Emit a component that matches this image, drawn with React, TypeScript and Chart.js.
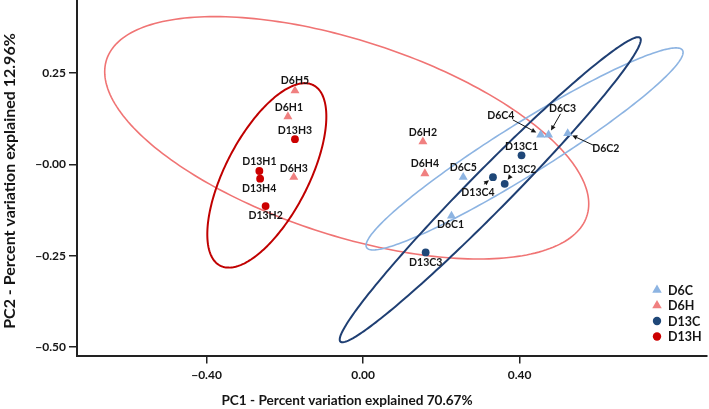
import { useEffect, useRef } from "react";
import { Chart, registerables } from "chart.js";

Chart.register(...registerables);

// ---------- data ----------
const groupLabels = ["D6C", "D6H", "D13C", "D13H"];
const groupColors = ["#8DB4E2", "#F08080", "#1F4778", "#CC0000"];
const groupStyles = ["triangle", "triangle", "circle", "circle"];

const d6cNames = ["D6C1", "D6C2", "D6C3", "D6C4", "D6C5"];
const d6cX = [0.226, 0.523, 0.474, 0.454, 0.256];
const d6cY = [-0.141, 0.085, 0.081, 0.081, -0.035];

const d6hNames = ["D6H1", "D6H2", "D6H3", "D6H4", "D6H5"];
const d6hX = [-0.192, 0.153, -0.177, 0.158, -0.174];
const d6hY = [0.131, 0.062, -0.035, -0.025, 0.202];

const d13cNames = ["D13C1", "D13C2", "D13C3", "D13C4"];
const d13cX = [0.405, 0.362, 0.16, 0.332];
const d13cY = [0.025, -0.053, -0.241, -0.035];

const d13hNames = ["D13H1", "D13H2", "D13H3", "D13H4"];
const d13hX = [-0.265, -0.249, -0.174, -0.263];
const d13hY = [-0.018, -0.114, 0.069, -0.039];

// confidence ellipses (order: D6H, D13H, D6C, D13C)
const ellipseGroups = ["D6H", "D13H", "D6C", "D13C"];
const ellipseCenterX = [-0.0417, -0.2459, 0.4128, 0.3251];
const ellipseCenterY = [0.0728, -0.0301, 0.0424, -0.0693];
const ellipseRadiusX = [0.6185, 0.1521, 0.4051, 0.3847];
const ellipseRadiusY = [0.3318, 0.2524, 0.2765, 0.4175];
const ellipseCorr = [-0.545, 0.638, 0.955, 0.982];

const xTicks = [-0.4, 0, 0.4];
const xTickLabels = ["\u22120.40", "0.00", "0.40"];
const yTicks = [0.25, 0, -0.25, -0.5];
const yTickLabels = ["0.25", "\u22120.00", "\u22120.25", "\u22120.50"];

const xTitle = "PC1 - Percent variation explained 70.67%";
const yTitle = "PC2 - Percent variation explained 12.96%";

// ---------- styling / placement ----------
const FONT = "Lato, 'Open Sans', sans-serif";
const ellipseColors: Record<string, string> = {
  D6H: "#F07474",
  D13H: "#C00000",
  D6C: "#8DB4E2",
  D13C: "#1F3F73",
};
const ellipseWidths: Record<string, number> = { D6H: 1.6, D13H: 2, D6C: 1.6, D13C: 2 };

// label centre offsets (px) relative to the point
const labelOffsets: Record<string, [number, number]> = {
  D6H5: [0, -10],
  D6H1: [1, -9],
  D13H3: [0, -9],
  D13H1: [0, -9],
  D6H3: [0, -9],
  D13H4: [-1, 9.5],
  D13H2: [0, 10],
  D6H2: [0, -9.5],
  D6H4: [0, -9.5],
  D6C5: [0, -9.5],
  D6C1: [-1, 9],
  D13C3: [0, 10],
  D13C1: [0, -9],
  D13C4: [-15, 15],
  D13C2: [15, -14],
  D6C4: [-40, -19],
  D6C3: [14, -26],
  D6C2: [38, 15],
};
// arrow start offsets (px) relative to the label centre
const arrowStarts: Record<string, [number, number]> = {
  D6C4: [12, 4],
  D6C3: [-2, 5],
  D6C2: [-12, -3],
  D13C4: [6, -8],
  D13C2: [-9, 6],
};

const allNames = [d6cNames, d6hNames, d13cNames, d13hNames];

function toPoints(xs: number[], ys: number[]) {
  return xs.map((x, i) => ({ x, y: ys[i] }));
}

const ellipsePlugin = {
  id: "ellipses",
  beforeDatasetsDraw(chart: any) {
    const { ctx, chartArea, scales } = chart;
    const xs = scales.x;
    const ys = scales.y;
    ctx.save();
    ctx.beginPath();
    ctx.rect(chartArea.left, chartArea.top, chartArea.right - chartArea.left, chartArea.bottom - chartArea.top);
    ctx.clip();
    ellipseGroups.forEach((g, k) => {
      const cx = ellipseCenterX[k];
      const cy = ellipseCenterY[k];
      const rx = ellipseRadiusX[k];
      const ry = ellipseRadiusY[k];
      const r = ellipseCorr[k];
      const s = Math.sqrt(1 - r * r);
      ctx.beginPath();
      const n = 240;
      for (let i = 0; i <= n; i++) {
        const t = (i / n) * Math.PI * 2;
        const dx = cx + rx * Math.cos(t);
        const dy = cy + ry * (r * Math.cos(t) + s * Math.sin(t));
        const px = xs.getPixelForValue(dx);
        const py = ys.getPixelForValue(dy);
        if (i === 0) ctx.moveTo(px, py);
        else ctx.lineTo(px, py);
      }
      ctx.closePath();
      ctx.strokeStyle = ellipseColors[g];
      ctx.lineWidth = ellipseWidths[g];
      ctx.stroke();
    });
    ctx.restore();
  },
};

function drawArrow(ctx: CanvasRenderingContext2D, x1: number, y1: number, x2: number, y2: number) {
  const ang = Math.atan2(y2 - y1, x2 - x1);
  const c = Math.cos(ang);
  const s = Math.sin(ang);
  const headLen = 5;
  const headW = 2.4;
  ctx.beginPath();
  ctx.moveTo(x1, y1);
  ctx.lineTo(x2 - c * headLen, y2 - s * headLen);
  ctx.stroke();
  ctx.beginPath();
  ctx.moveTo(x2, y2);
  ctx.lineTo(x2 - c * headLen - s * headW, y2 - s * headLen + c * headW);
  ctx.lineTo(x2 - c * headLen + s * headW, y2 - s * headLen - c * headW);
  ctx.closePath();
  ctx.fill();
}

const labelPlugin = {
  id: "pointLabels",
  afterDatasetsDraw(chart: any) {
    const { ctx } = chart;
    ctx.save();
    ctx.font = `bold 10.5px ${FONT}`;
    ctx.textAlign = "center";
    ctx.textBaseline = "middle";
    ctx.fillStyle = "#151515";
    ctx.strokeStyle = "#151515";
    ctx.lineWidth = 1;
    chart.data.datasets.forEach((ds: any, di: number) => {
      const meta = chart.getDatasetMeta(di);
      const names = allNames[di];
      meta.data.forEach((el: any, i: number) => {
        const name = names[i];
        const off = labelOffsets[name] || [0, -9];
        const lx = el.x + off[0];
        const ly = el.y + off[1];
        ctx.fillText(name, lx, ly);
        const a = arrowStarts[name];
        if (a) {
          const sx = lx + a[0];
          const sy = ly + a[1];
          const ang = Math.atan2(el.y - sy, el.x - sx);
          const gap = 5;
          drawArrow(ctx, sx, sy, el.x - Math.cos(ang) * gap, el.y - Math.sin(ang) * gap);
        }
      });
    });
    ctx.restore();
  },
};

const decorPlugin = {
  id: "decor",
  afterDraw(chart: any) {
    const { ctx, chartArea } = chart;
    ctx.save();
    // legend
    const mx = chartArea.right - 50;
    const y0 = chartArea.bottom - 65.5;
    const step = 15.5;
    ctx.font = `bold 12.5px ${FONT}`;
    ctx.textAlign = "left";
    ctx.textBaseline = "middle";
    groupLabels.forEach((lab, i) => {
      const y = y0 + i * step;
      ctx.fillStyle = groupColors[i];
      if (groupStyles[i] === "triangle") {
        const r = 5.5;
        ctx.beginPath();
        ctx.moveTo(mx, y - r);
        ctx.lineTo(mx + r * 0.866, y + r / 2);
        ctx.lineTo(mx - r * 0.866, y + r / 2);
        ctx.closePath();
        ctx.fill();
      } else {
        ctx.beginPath();
        ctx.arc(mx, y, 4.2, 0, Math.PI * 2);
        ctx.fill();
      }
      ctx.fillStyle = "#151515";
      ctx.fillText(lab, mx + 11, y + 0.5);
    });
    // axis titles
    ctx.fillStyle = "#151515";
    ctx.textAlign = "center";
    ctx.textBaseline = "middle";
    ctx.font = `bold 13.6px ${FONT}`;
    ctx.fillText(xTitle, 347, 401);
    ctx.translate(10, 181);
    ctx.rotate(-Math.PI / 2);
    ctx.font = `bold 16px ${FONT}`;
    ctx.fillText(yTitle, 0, 0);
    ctx.restore();
  },
};

export default function App() {
  const ref = useRef<HTMLCanvasElement | null>(null);
  useEffect(() => {
    if (!ref.current) return;
    const datasets = [
      { xs: d6cX, ys: d6cY },
      { xs: d6hX, ys: d6hY },
      { xs: d13cX, ys: d13cY },
      { xs: d13hX, ys: d13hY },
    ].map((d, i) => ({
      label: groupLabels[i],
      data: toPoints(d.xs, d.ys),
      pointStyle: groupStyles[i] as any,
      pointRadius: groupStyles[i] === "triangle" ? 5.2 : 3.9,
      pointBackgroundColor: groupColors[i],
      pointBorderColor: groupColors[i],
      pointBorderWidth: 0,
      showLine: false,
    }));
    const chart = new Chart(ref.current, {
      type: "scatter",
      data: { datasets },
      options: {
        animation: false,
        responsive: false,
        devicePixelRatio: 1,
        layout: { autoPadding: false, padding: { left: 0, right: 2, top: 0, bottom: 0 } },
        plugins: {
          legend: { display: false },
          tooltip: { enabled: false },
        },
        scales: {
          x: {
            type: "linear",
            min: -0.731,
            max: 0.879,
            afterFit(scale: any) {
              scale.height = 53.5;
              scale.paddingLeft = 0;
              scale.paddingRight = 0;
            },
            afterBuildTicks(scale: any) {
              scale.ticks = xTicks.map((v) => ({ value: v }));
            },
            ticks: {
              autoSkip: false,
              maxRotation: 0,
              padding: 4,
              color: "#151515",
              font: { family: FONT, weight: "bold", size: 12 },
              callback: (_v: any, i: number) => xTickLabels[i],
            },
            grid: {
              drawOnChartArea: false,
              drawTicks: true,
              tickLength: 8,
              color: "#222",
              lineWidth: 1.5,
            },
            border: { display: true, color: "#222", width: 2 },
          },
          y: {
            type: "linear",
            min: -0.523,
            max: 0.45,
            afterFit(scale: any) {
              scale.width = 77;
              scale.paddingTop = 0;
              scale.paddingBottom = 0;
            },
            afterBuildTicks(scale: any) {
              scale.ticks = yTicks.map((v) => ({ value: v }));
            },
            ticks: {
              autoSkip: false,
              padding: 3,
              color: "#151515",
              font: { family: FONT, weight: "bold", size: 12 },
              callback: (_v: any, i: number) => yTickLabels[i],
            },
            grid: {
              drawOnChartArea: false,
              drawTicks: true,
              tickLength: 8,
              color: "#222",
              lineWidth: 1.5,
            },
            border: { display: true, color: "#222", width: 2 },
          },
        },
      } as any,
      plugins: [ellipsePlugin, labelPlugin, decorPlugin],
    });
    return () => chart.destroy();
  }, []);
  return (
    <div style={{ position: "fixed", left: 0, top: 0, width: 709, height: 409, background: "#fff" }}>
      <canvas ref={ref} width={709} height={409} style={{ width: 709, height: 409, display: "block" }} />
    </div>
  );
}
